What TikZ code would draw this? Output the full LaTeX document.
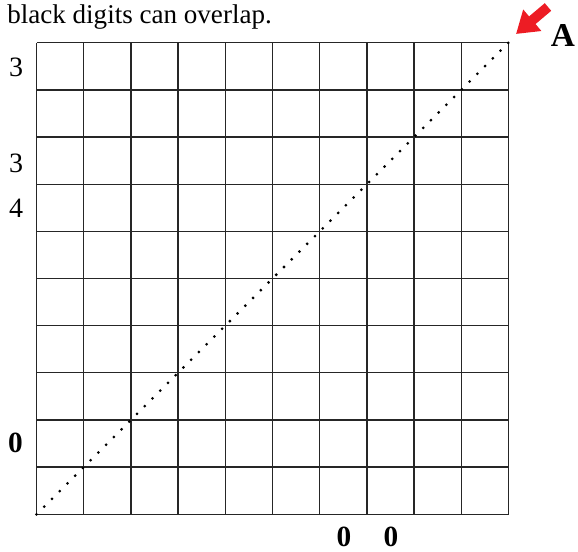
\documentclass[tikz,border=0pt]{standalone}
\usepackage{fontspec}
\setmainfont{Liberation Serif}
\usetikzlibrary{arrows.meta}
\definecolor{arrowred}{RGB}{237,28,36}

\begin{document}
\begin{tikzpicture}[
  x=0.75pt, y=-0.75pt,
  gridline/.style={draw=black!85, line width=1pt},
  diag/.style={line width=2.3pt, line cap=round, dash pattern=on 0pt off 8.2pt},
  clue/.style={inner sep=0pt, font=\fontsize{21}{21}\selectfont},
  bigclue/.style={inner sep=0pt, font=\fontsize{22}{22}\selectfont\bfseries},
  pointer/.style={-{Triangle[length=16pt, width=20pt]}, line width=7.5pt, draw=arrowred}
]
\useasboundingbox (0,0) rectangle (578,552);
\coordinate (SW) at (36.5,514.3);
\coordinate (NE) at (508.5,42.7);

% the 10 x 10 board
\foreach \k in {0,...,10} {
  \draw[gridline] (36.5+47.2*\k,514.3) -- (36.5+47.2*\k,42.7);
  \draw[gridline] (36.5,514.3-47.16*\k) -- (508.5,514.3-47.16*\k);
}
\draw[diag] (SW) -- (NE);

\node[anchor=base west, inner sep=0pt, font=\fontsize{20.3}{22}\selectfont] (note) at (7,23.3) {black digits can overlap.};

% corner marker
\coordinate (tail) at (548,7);
\coordinate (tip) at (516,34);
\draw[pointer] (tail) -- (tip);
\node[inner sep=0pt, font=\fontsize{25}{25}\selectfont\bfseries] (lblA) at (563,36) {A};

% clues
\node[clue] (row1) at (16,67) {3};
\node[clue] (row3) at (16,163) {3};
\node[clue] (row4) at (16,208) {4};
\node[bigclue] (row9) at (15.5,443) {0};
\node[bigclue] (col7) at (344,537) {0};
\node[bigclue] (col8) at (391,537) {0};
\end{tikzpicture}
\end{document}
